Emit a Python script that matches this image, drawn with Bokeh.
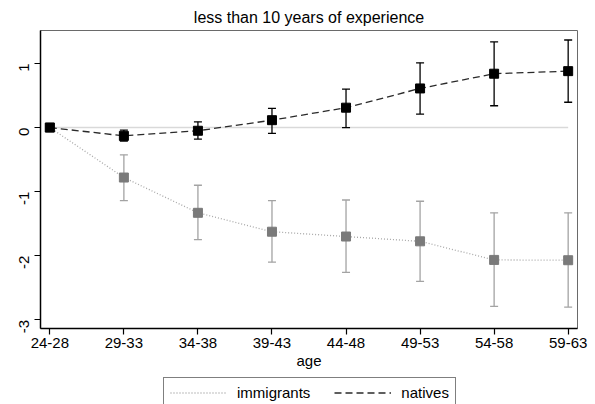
import math

from bokeh.embed import file_html
from bokeh.layouts import column
from bokeh.models import (ColumnDataSource, FixedTicker, Legend, LegendItem,
                          Range1d, TeeHead, Whisker)
from bokeh.plotting import figure
from bokeh.resources import INLINE

# Age groups on the x axis
ages = ["24-28", "29-33", "34-38", "39-43", "44-48", "49-53", "54-58", "59-63"]

# Natives: point estimate with confidence interval
natives = [0.0, -0.13, -0.05, 0.115, 0.31, 0.61, 0.84, 0.88]
natives_lo = [0.0, -0.21, -0.18, -0.09, 0.0, 0.21, 0.34, 0.395]
natives_hi = [0.0, -0.04, 0.09, 0.30, 0.60, 1.01, 1.335, 1.366]

# Immigrants: point estimate with confidence interval
immigrants = [0.0, -0.78, -1.33, -1.625, -1.70, -1.775, -2.065, -2.07]
immigrants_lo = [0.0, -1.14, -1.75, -2.10, -2.26, -2.40, -2.79, -2.80]
immigrants_hi = [0.0, -0.425, -0.90, -1.14, -1.13, -1.15, -1.33, -1.33]

y_ticks = [-3, -2, -1, 0, 1]

FONT = "Liberation Sans"
IMM_LINE = dict(line_color="#a8a8a8", line_width=1.3, line_dash="1 2")
NAT_LINE = dict(line_color="#2a2a2a", line_width=1.3, line_dash="7 4")
x = list(range(len(ages)))

p = figure(output_backend="svg", toolbar_location=None,
           frame_width=537, frame_height=298,
           x_range=Range1d(-0.126, len(ages) - 1 + 0.126),
           y_range=Range1d(-3.135, 1.514),
           min_border_left=40, min_border_right=18,
           min_border_top=30, min_border_bottom=46)

p.title.text = "less than 10 years of experience"
p.title.align = "center"
p.title.text_font = FONT
p.title.text_font_size = "16px"
p.title.text_font_style = "normal"
p.title.text_color = "black"

p.background_fill_color = "white"
p.border_fill_color = "white"
p.outline_line_color = "#6a6a6a"
p.outline_line_width = 1
p.xgrid.visible = False
p.ygrid.visible = False

# Axes
p.xaxis.ticker = FixedTicker(ticks=x)
p.xaxis.major_label_overrides = {i: a for i, a in enumerate(ages)}
p.xaxis.axis_label = "age"
p.yaxis.ticker = FixedTicker(ticks=y_ticks)
p.yaxis.major_label_overrides = {t: str(t) for t in y_ticks}
p.yaxis.major_label_orientation = math.pi / 2
for ax in (p.xaxis[0], p.yaxis[0]):
    ax.axis_line_color = "black"
    ax.axis_line_width = 1.5
    ax.major_tick_line_color = "black"
    ax.major_tick_line_width = 1.2
    ax.major_tick_out = 6
    ax.major_tick_in = 0
    ax.minor_tick_line_color = None
    ax.major_label_text_font = FONT
    ax.major_label_text_font_size = "15px"
    ax.major_label_text_color = "black"
    ax.axis_label_text_font = FONT
    ax.axis_label_text_font_size = "15px"
    ax.axis_label_text_font_style = "normal"
    ax.axis_label_text_color = "black"
p.xaxis.major_label_standoff = 3
p.xaxis.axis_label_standoff = 1
p.yaxis.major_label_standoff = 10

# Reference line at zero across the age groups
p.line(x, [0] * len(x), line_color="#d9d9d9", line_width=1.5, level="underlay")

# Immigrants
imm_src = ColumnDataSource(dict(x=x[1:], lo=immigrants_lo[1:], hi=immigrants_hi[1:]))
p.line(x, immigrants, **IMM_LINE)
p.add_layout(Whisker(source=imm_src, base="x", lower="lo", upper="hi",
                     line_color="#a3a3a3", line_width=1.3, level="underlay",
                     upper_head=TeeHead(size=8, line_color="#a3a3a3", line_width=1.3),
                     lower_head=TeeHead(size=8, line_color="#a3a3a3", line_width=1.3)))
p.scatter(x, immigrants, marker="square", size=9, fill_color="#7a7a7a",
          line_color="#7a7a7a")

# Natives
nat_src = ColumnDataSource(dict(x=x[1:], lo=natives_lo[1:], hi=natives_hi[1:]))
p.line(x, natives, **NAT_LINE)
p.add_layout(Whisker(source=nat_src, base="x", lower="lo", upper="hi",
                     line_color="black", line_width=1.3, level="underlay",
                     upper_head=TeeHead(size=8, line_color="black", line_width=1.3),
                     lower_head=TeeHead(size=8, line_color="black", line_width=1.3)))
p.scatter(x, natives, marker="square", size=9, fill_color="black",
          line_color="black")

# Legend strip under the chart; its key lines carry the series styling but
# their data lies outside the strip's ranges, so only the legend shows.
leg = figure(output_backend="svg", toolbar_location=None,
             frame_width=595, frame_height=30,
             x_axis_type=None, y_axis_type=None,
             x_range=Range1d(100, 101), y_range=Range1d(100, 101),
             min_border=0, outline_line_color=None)
leg.xgrid.visible = False
leg.ygrid.visible = False
imm_key = leg.line(x, immigrants, **IMM_LINE)
nat_key = leg.line(x, natives, **NAT_LINE)
legend = Legend(items=[LegendItem(label="immigrants", renderers=[imm_key]),
                       LegendItem(label="natives", renderers=[nat_key])],
                orientation="horizontal", location=(163, -4),
                label_text_font=FONT, label_text_font_size="15px",
                label_text_color="black",
                glyph_width=57, glyph_height=15, label_standoff=10,
                spacing=24, padding=6, margin=0,
                border_line_color="black", border_line_width=1,
                background_fill_color="white", background_fill_alpha=1)
leg.add_layout(legend, "center")

layout = column(p, leg, spacing=0)
open("out.html", "w").write(file_html(layout, INLINE))
